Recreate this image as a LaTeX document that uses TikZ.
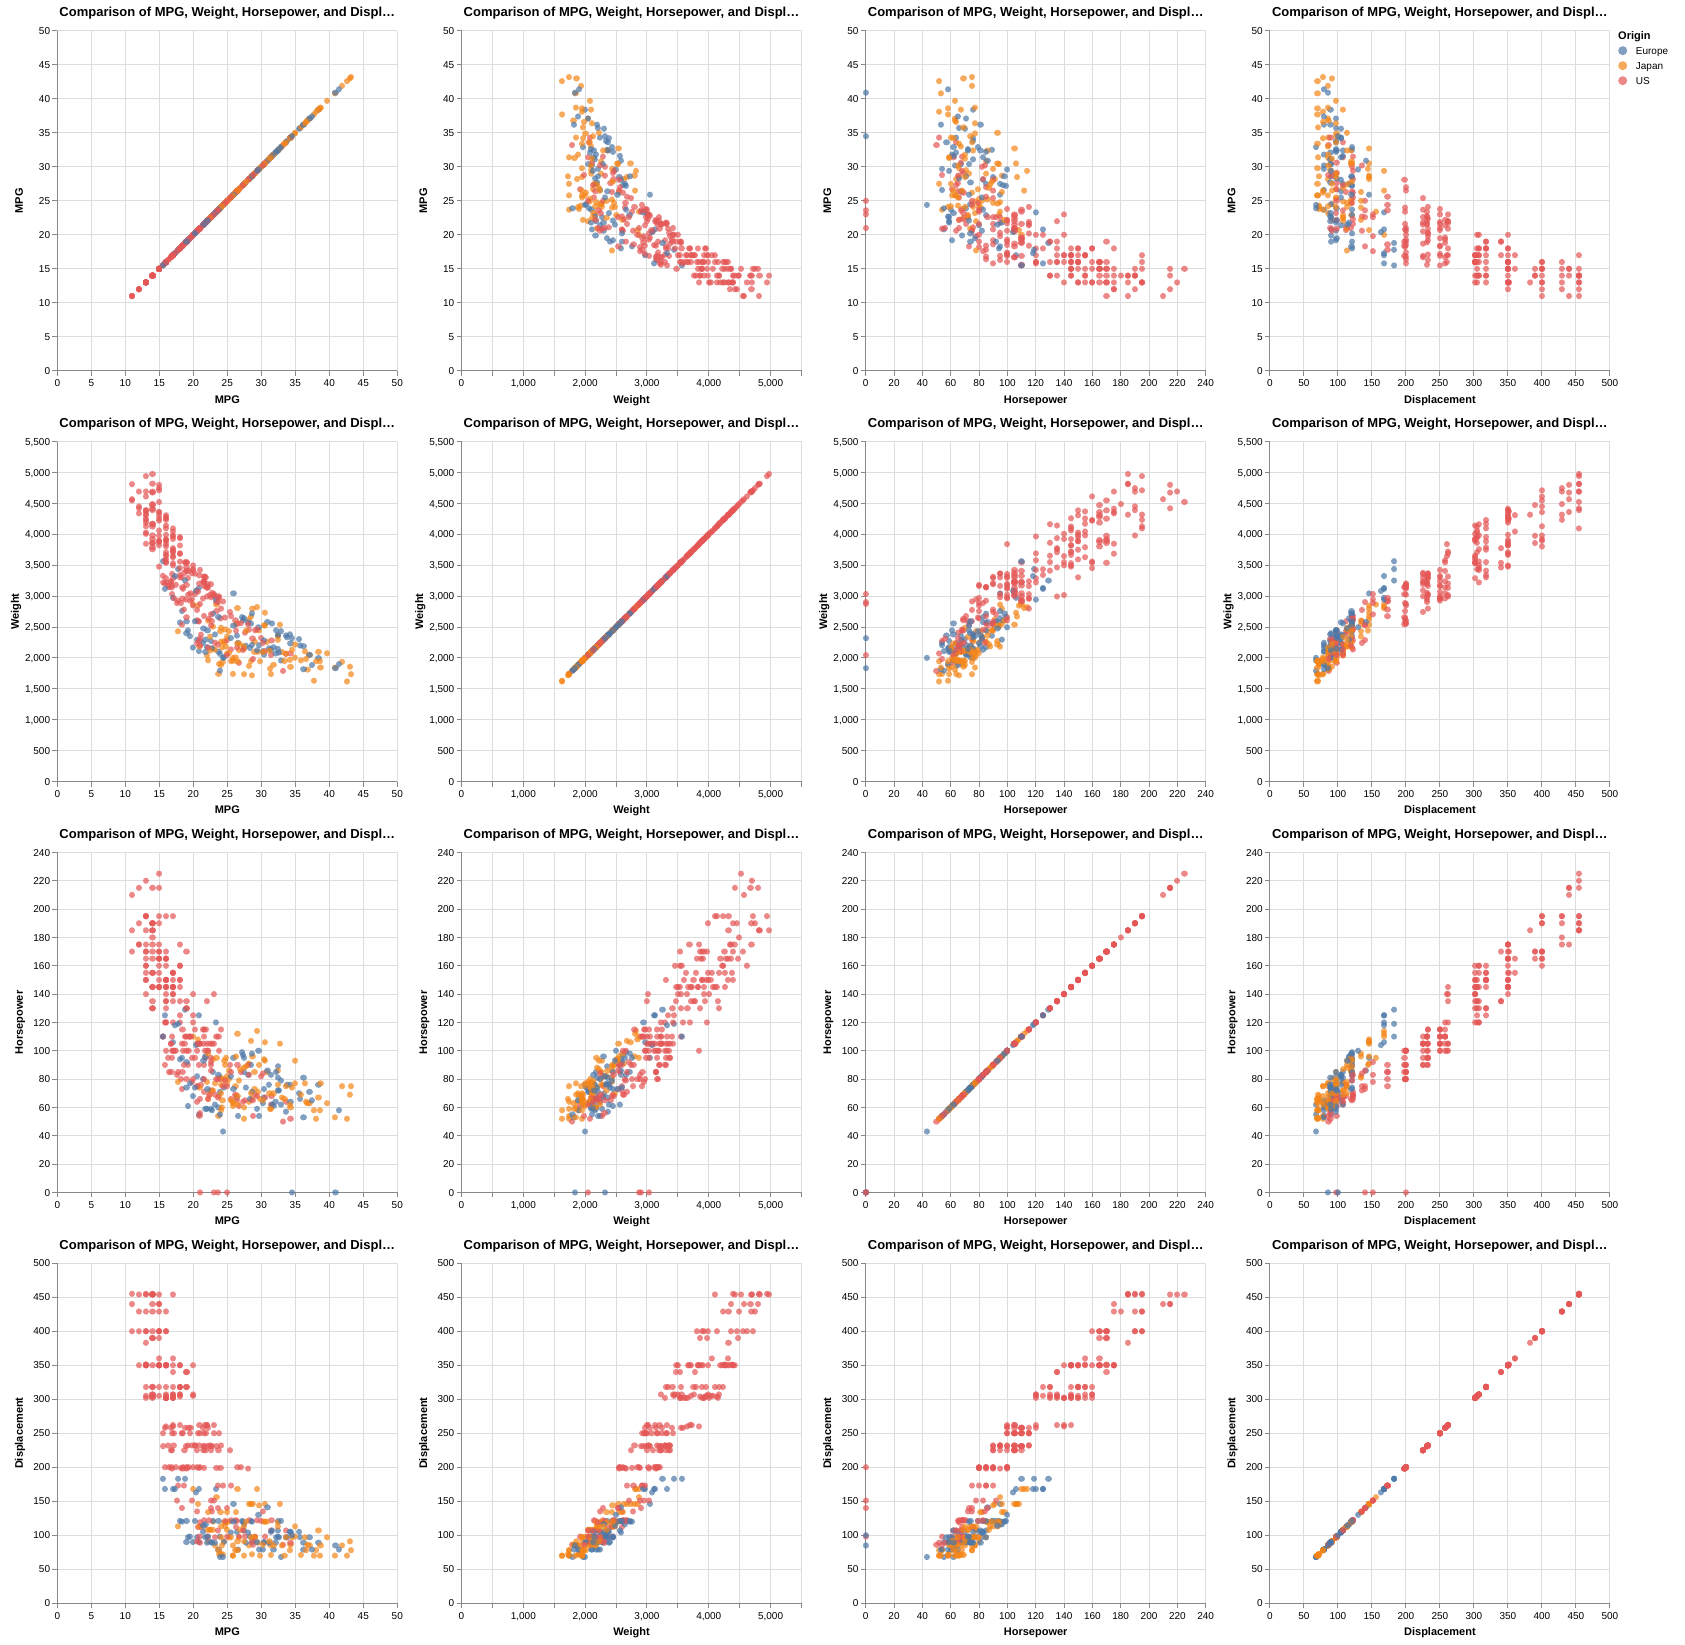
\documentclass[tikz,border=0pt]{standalone}
\usepackage{fontspec}
\setmainfont{Liberation Sans}

\definecolor{org1}{HTML}{4C78A8}
\definecolor{org2}{HTML}{F58518}
\definecolor{org3}{HTML}{E45756}
\definecolor{gridgray}{HTML}{DDDDDD}
\definecolor{axisgray}{HTML}{888888}

\def\op{0.7}

% per variable: field, scale, tick step, labels, name, title offset
\def\selm{\dmpg}\def\selw{\dwt}\def\selh{\dhp}\def\seld{\ddisp}
\def\facm{6.8}\def\facw{0.0618182}\def\fach{1.4166667}\def\facd{0.68}
\def\stpm{34}\def\stpw{30.909091}\def\stph{28.333333}\def\stpd{34}
\def\labym{0,5,10,15,20,25,30,35,40,45,50}
\def\labyw{0,500,{1,000},{1,500},{2,000},{2,500},{3,000},{3,500},{4,000},{4,500},{5,000},{5,500}}
\def\labyh{0,20,40,60,80,100,120,140,160,180,200,220,240}
\def\labyd{0,50,100,150,200,250,300,350,400,450,500}
\let\labxm\labym
\def\labxw{0,{},{1,000},{},{2,000},{},{3,000},{},{4,000},{},{5,000},{}}
\let\labxh\labyh
\let\labxd\labyd
\def\namem{MPG}\def\namew{Weight}\def\nameh{Horsepower}\def\named{Displacement}
\def\offm{34.5}\def\offw{38.5}\def\offh{34.5}\def\offd{34.5}

\tikzset{
  gridline/.style={draw=gridgray, line width=1pt},
  axisline/.style={draw=axisgray, line width=1pt},
  ticklabel/.style={font=\fontsize{10}{12}\selectfont, inner sep=0pt, text height=7.2pt, text depth=0pt},
  axistitle/.style={font=\fontsize{11}{13}\selectfont\bfseries, inner sep=0pt, anchor=base},
  paneltitle/.style={font=\fontsize{13}{15}\selectfont\bfseries, inner sep=0pt, anchor=base},
  carlayer/.style={opacity=\op, line width=6.2pt, line cap=round},
}

\begin{document}
\begin{tikzpicture}[x=1pt, y=-1pt]

\fill[white] (0,0) rectangle (1685,1644);
\useasboundingbox (0,0) rectangle (1685,1644);

% car data (mpg/weight/hp/displacement/origin)
\pgfmathsetseed{1970}
\gdef\cardata{}
\foreach \idx in {1,...,392}{%
  \pgfmathsetmacro\pick{rnd}
  \pgfmathtruncatemacro\dorg{\pick<0.62 ? 3 : (\pick<0.80 ? 1 : 2)}
  \ifnum\dorg=3
    \pgfmathsetmacro\pick{rnd}
    \ifdim\pick pt<0.5pt
      \pgfmathtruncatemacro\ddisp{{302,304,305,307,318,318,318,350,350,350,350,351,360,400,400,400,429,440,454,455,383,390,302,305,260,262,340,318,350,302}[int(rnd*30)]}
      \pgfmathtruncatemacro\dhp{round((0.42*\ddisp+12+22*rand)/5)*5}
      \pgfmathtruncatemacro\dwt{1900+5.8*\ddisp+500*rand}
      \pgfmathtruncatemacro\dmpg{round(1000/(16.5*(\dwt/1000)-0.5)*(1+0.16*rand))}
    \else\ifdim\pick pt<0.8pt
      \pgfmathtruncatemacro\ddisp{{198,199,200,225,225,231,232,232,250,250,258,200,231,173,262,225,250,232}[int(rnd*18)]}
      \pgfmathtruncatemacro\dhp{round((0.35*\ddisp+20+12*rand)/5)*5}
      \pgfmathtruncatemacro\dwt{1500+7*\ddisp+350*rand}
      \pgfmathsetmacro\dmpg{round(10000/(16.5*(\dwt/1000)-0.5)*(1+0.18*rand))/10}
    \else
      \pgfmathtruncatemacro\ddisp{{97,98,98,105,121,122,122,140,140,151,151,135,119,112,91,86,107,89}[int(rnd*18)]}
      \pgfmathtruncatemacro\dhp{round(0.4*\ddisp+25+10*rand)}
      \pgfmathtruncatemacro\dwt{1300+9*\ddisp+300*rand}
      \pgfmathsetmacro\dmpg{round(10000/(16.5*(max(\dwt,1900)/1000)-0.5)*(0.97+0.22*rand))/10}
    \fi\fi
  \else\ifnum\dorg=1
    \pgfmathtruncatemacro\ddisp{{97,90,79,121,120,98,107,116,130,141,163,68,89,105,114,104,121,183,168,146,97,97,90,121,105,89,79,116}[int(rnd*28)]}
    \pgfmathtruncatemacro\dhp{round(0.55*\ddisp+18+15*rand)}
    \pgfmathtruncatemacro\dwt{1050+12.5*\ddisp+230*rand}
    \pgfmathsetmacro\dmpg{round(10000/(16.5*(max(\dwt,1900)/1000)-0.5)*(1.02+0.32*rand))/10}
  \else
    \pgfmathtruncatemacro\ddisp{{97,85,91,119,107,108,120,134,146,156,168,71,72,78,97,98,89,86,144,113,70,97,85,91,119,108,120,134}[int(rnd*28)]}
    \pgfmathtruncatemacro\dhp{round(0.5*\ddisp+25+12*rand)}
    \pgfmathtruncatemacro\dwt{1050+11*\ddisp+200*rand}
    \pgfmathsetmacro\dmpg{round(10000/(16.5*(max(\dwt,1900)/1000)-0.5)*(1.03+0.33*rand))/10}
  \fi\fi
  \xdef\cardata{\cardata\dmpg/\dwt/\dhp/\ddisp/\dorg,}
}
\xdef\cardata{\cardata 25/2046/0/98/3,21/2875/0/200/3,40.9/1835/0/85/1,23.6/2905/0/140/3,34.5/2320/0/100/1,23/3035/0/151/3}

% panels
\foreach \vy [count=\prow from 0] in {m,w,h,d}{
  \foreach \vx [count=\pcol from 0] in {m,w,h,d}{
    \begin{scope}[shift={(57.3+404.2*\pcol,30.8+410.8*\prow)}]
      \expandafter\let\expandafter\xsel\csname sel\vx\endcsname
      \expandafter\let\expandafter\ysel\csname sel\vy\endcsname
      \expandafter\let\expandafter\xfac\csname fac\vx\endcsname
      \expandafter\let\expandafter\yfac\csname fac\vy\endcsname
      \expandafter\let\expandafter\xstp\csname stp\vx\endcsname
      \expandafter\let\expandafter\ystp\csname stp\vy\endcsname
      \expandafter\let\expandafter\xlabs\csname labx\vx\endcsname
      \expandafter\let\expandafter\ylabs\csname laby\vy\endcsname
      \expandafter\let\expandafter\xname\csname name\vx\endcsname
      \expandafter\let\expandafter\yname\csname name\vy\endcsname
      \expandafter\let\expandafter\yoff\csname off\vy\endcsname

      \foreach \lab [count=\tk from 0] in \xlabs
        \draw[gridline] (\tk*\xstp,0) -- (\tk*\xstp,340);
      \foreach \lab [count=\tk from 0] in \ylabs
        \draw[gridline] (0,340-\tk*\ystp) -- (340,340-\tk*\ystp);

      \draw[axisline] (0,0) -- (0,340) -- (340,340);
      \foreach \lab [count=\tk from 0] in \xlabs {
        \draw[axisline] (\tk*\xstp,340) -- ++(0,5);
        \node (xl\prow\pcol\tk) at (\tk*\xstp,348.4) [ticklabel, anchor=north] {\lab};
      }
      \foreach \lab [count=\tk from 0] in \ylabs {
        \draw[axisline] (0,340-\tk*\ystp) -- ++(-5,0);
        \node (yl\prow\pcol\tk) at (-7,340-\tk*\ystp) [ticklabel, anchor=east] {\lab};
      }

      \begin{scope}[carlayer]
        \foreach \dmpg/\dwt/\dhp/\ddisp/\dorg in \cardata
          \draw[org\dorg] (\xsel*\xfac,340-\ysel*\yfac) -- ++(0,0.01);
      \end{scope}

      \node (title\prow\pcol) at (170,-14) [paneltitle] {Comparison of MPG, Weight, Horsepower, and Displ…};
      \node (xt\prow\pcol) at (170,372.3) [axistitle] {\xname};
      \node (yt\prow\pcol) at (-\yoff,170) [axistitle, rotate=90] {\yname};
    \end{scope}
  }
}

% legend
\node (legtitle) at (1618,39) [axistitle, anchor=base west] {Origin};
\foreach \nm [count=\tk] in {Europe,Japan,US}{
  \fill[org\tk, opacity=\op] (1622.7,35.7+15*\tk) circle[radius=4.5];
  \node (leg\tk) at (1635.7,35.7+15*\tk) [ticklabel, anchor=west] {\nm};
}

\end{tikzpicture}
\end{document}
